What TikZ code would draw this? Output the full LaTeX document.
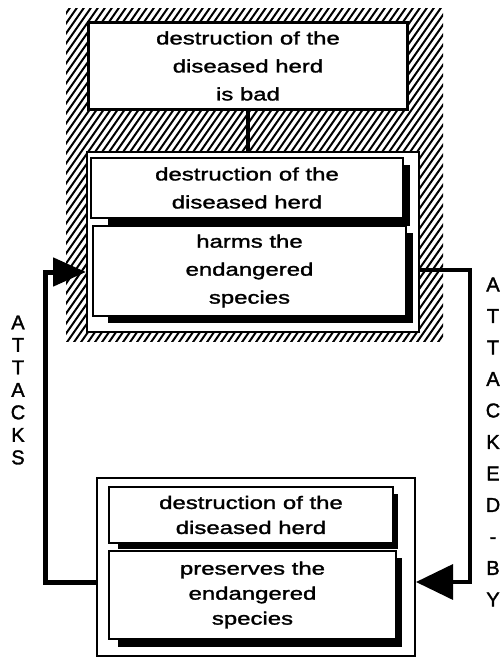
\documentclass[tikz,border=0pt]{standalone}
\usepackage{fontspec}
\setmainfont{Liberation Sans}
\newfontfamily\boxfont[FakeStretch=1.33,FakeBold=1.6]{Liberation Sans}
\newfontfamily\letfont[FakeBold=1.6]{Liberation Sans}
\usetikzlibrary{arrows.meta}
\begin{document}
\begin{tikzpicture}[x=1pt,y=-1pt,
  boxtxt/.style={font={\boxfont\fontsize{18}{28}\selectfont}, align=center, inner sep=0pt},
  btxt/.style={font={\boxfont\fontsize{18}{25}\selectfont}, align=center, inner sep=0pt},
  mainbox/.style={draw, line width=3pt, fill=white, anchor=north west},
  framebox/.style={draw, line width=2pt, fill=white, anchor=north west, inner sep=0pt},
  subbox/.style={draw, line width=2pt, fill=white, anchor=north west},
  shadow/.style={fill=black},
  vert/.style={align=center, inner sep=0pt},
  conn/.style={line width=5pt, line join=miter},
]
\useasboundingbox (0,0) rectangle (503,658);
% hatched region
\begin{scope}
  \clip (66,9) rectangle (443,341);
  \foreach \x in {-250,-243,...,450} \draw[line width=2pt] (\x,345) -- ++(240,-343);
\end{scope}
% top claim
\node[mainbox, minimum width=319pt, minimum height=87pt, boxtxt] (tb) at (87,21)
  {destruction of the\\diseased herd\\is bad};
% top frame
\node[framebox, minimum width=332pt, minimum height=180pt] (tf) at (86,151) {};
\fill[shadow] (108,165) rectangle (410,226);
\node[subbox, minimum width=312pt, minimum height=60pt, boxtxt] (t1) at (90,157)
  {destruction of the\\diseased herd};
\fill[shadow] (108,233) rectangle (413,323);
\node[subbox, minimum width=313pt, minimum height=90pt, boxtxt] (t2) at (92,225)
  {harms the\\endangered\\species};
% bottom frame
\node[framebox, minimum width=318pt, minimum height=178pt] (bf) at (96,477) {};
\fill[shadow] (118,494) rectangle (398,549);
\node[subbox, minimum width=284pt, minimum height=56pt, btxt] (b1) at (108,486)
  {destruction of the\\diseased herd};
\fill[shadow] (118,558) rectangle (402,647);
\node[subbox, minimum width=287pt, minimum height=88pt, btxt] (b2) at (108,550)
  {preserves the\\endangered\\species};
% connectors
\draw[line width=4pt] (tb.south) -- (tb.south |- tf.north);
\coordinate (ly) at (0,582);
\coordinate (ty) at (0,272);
\coordinate (lx) at (45,272);
\coordinate (rx) at (470,270);
\draw[conn, -{Triangle[length=33pt,width=28pt]}] (bf.west |- ly) -| (lx) -- (tf.west |- ty);
\draw[conn, line width=3.5pt, -{Triangle[length=37pt,width=35pt]}] (tf.east |- rx) -- (rx) |- (bf.east |- ly);
% labels
\node[vert, font={\letfont\fontsize{20}{22.5}\selectfont}] (atk) at (18,390) {A\\T\\T\\A\\C\\K\\S};
\node[vert, font={\letfont\fontsize{20}{31.5}\selectfont}] (atkby) at (493,442) {A\\T\\T\\A\\C\\K\\E\\D\\-\\B\\Y};
\end{tikzpicture}
\end{document}
